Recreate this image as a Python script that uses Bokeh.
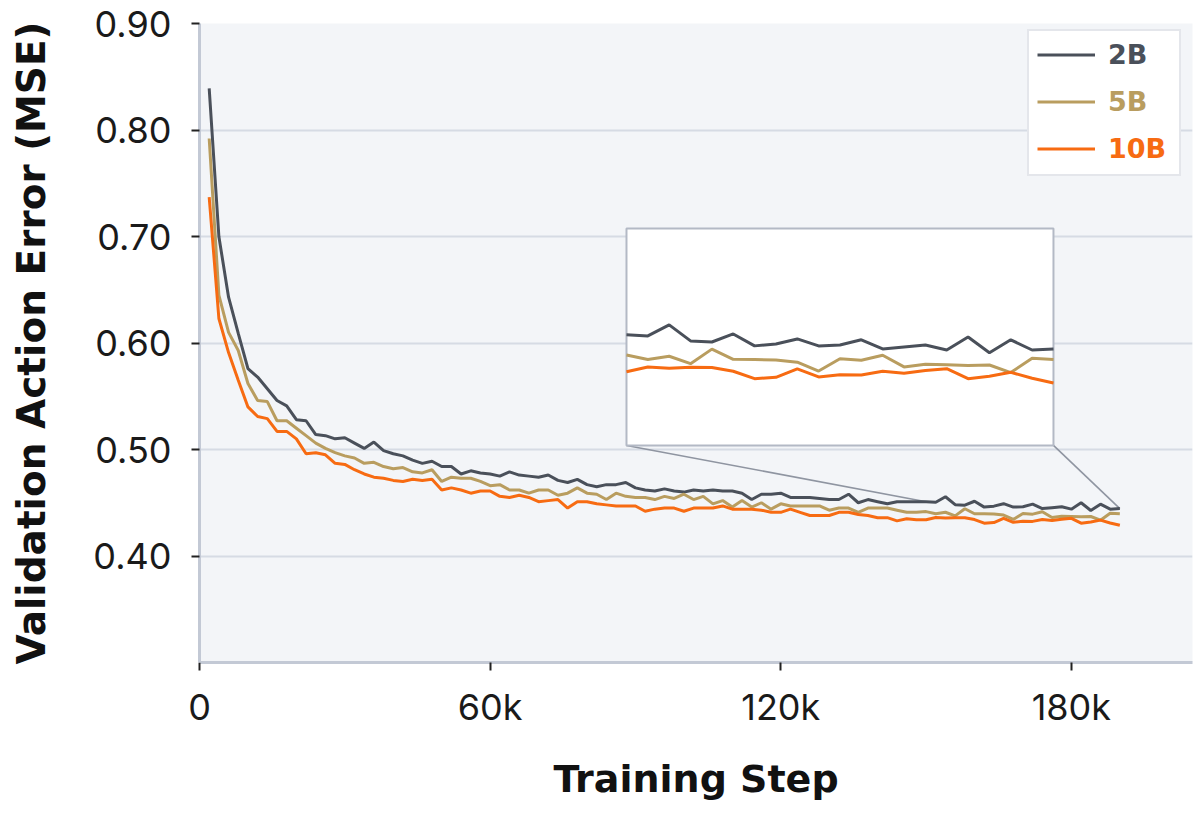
from bokeh.plotting import figure
from bokeh.models import Range1d, FixedTicker, Legend, LegendItem
from bokeh.embed import file_html
from bokeh.resources import INLINE

# ---------------- data ----------------
steps = list(range(2000, 190001, 2000))

series_names = ["2B", "5B", "10B"]

loss_2b = [
    0.839, 0.700, 0.643, 0.609, 0.576, 0.568, 0.557, 0.546, 0.541, 0.528,
    0.527, 0.514, 0.513, 0.510, 0.511, 0.506, 0.501, 0.507, 0.499, 0.496,
    0.494, 0.490, 0.487, 0.489, 0.484, 0.484, 0.477, 0.480, 0.478, 0.477,
    0.475, 0.479, 0.476, 0.475, 0.474, 0.476, 0.471, 0.469, 0.472, 0.467,
    0.465, 0.467, 0.467, 0.469, 0.464, 0.462, 0.461, 0.463, 0.461, 0.460,
    0.462, 0.461, 0.462, 0.461, 0.461, 0.459, 0.453, 0.458, 0.458, 0.459,
    0.455, 0.455, 0.455, 0.454, 0.453, 0.453, 0.458, 0.450, 0.453, 0.451,
    0.449, 0.451, 0.451, 0.451,
    0.4510, 0.4505, 0.4556, 0.4482, 0.4477, 0.4514, 0.4459, 0.4468, 0.4491,
    0.4459, 0.4463, 0.4487, 0.4445, 0.4454, 0.4463, 0.4440, 0.4500, 0.4427,
    0.4487, 0.4440, 0.4445,
]

loss_5b = [
    0.792, 0.645, 0.610, 0.593, 0.562, 0.546, 0.545, 0.527, 0.527, 0.520,
    0.513, 0.506, 0.501, 0.497, 0.494, 0.492, 0.487, 0.488, 0.484, 0.482,
    0.483, 0.479, 0.478, 0.481, 0.470, 0.474, 0.473, 0.473, 0.470, 0.466,
    0.467, 0.462, 0.462, 0.459, 0.462, 0.462, 0.457, 0.459, 0.464, 0.459,
    0.458, 0.453, 0.459, 0.456, 0.455, 0.455, 0.453, 0.456, 0.454, 0.458,
    0.453, 0.456, 0.449, 0.452, 0.446, 0.452, 0.446, 0.450, 0.444, 0.449,
    0.447, 0.447, 0.447, 0.447, 0.443, 0.445, 0.445, 0.441, 0.445, 0.445,
    0.445, 0.443, 0.441, 0.441,
    0.4417, 0.4396, 0.4411, 0.4377, 0.4444, 0.4397, 0.4396, 0.4394, 0.4384,
    0.4343, 0.4400, 0.4393, 0.4416, 0.4362, 0.4374, 0.4372, 0.4368, 0.4371,
    0.4336, 0.4402, 0.4396,
]

loss_10b = [
    0.737, 0.623, 0.591, 0.565, 0.540, 0.531, 0.529, 0.517, 0.517, 0.510,
    0.496, 0.497, 0.495, 0.487, 0.486, 0.481, 0.477, 0.474, 0.473, 0.471,
    0.470, 0.472, 0.471, 0.472, 0.462, 0.464, 0.462, 0.459, 0.461, 0.461,
    0.456, 0.455, 0.457, 0.455, 0.451, 0.452, 0.453, 0.445, 0.451, 0.451,
    0.449, 0.448, 0.447, 0.447, 0.447, 0.442, 0.444, 0.445, 0.445, 0.442,
    0.445, 0.445, 0.445, 0.447, 0.444, 0.444, 0.444, 0.443, 0.441, 0.441,
    0.444, 0.441, 0.438, 0.438, 0.438, 0.441, 0.441, 0.439, 0.438, 0.436,
    0.436, 0.433, 0.435, 0.434,
    0.4340, 0.4362, 0.4356, 0.4360, 0.4359, 0.4342, 0.4308, 0.4314, 0.4353,
    0.4316, 0.4326, 0.4325, 0.4342, 0.4333, 0.4345, 0.4354, 0.4308, 0.4319,
    0.4337, 0.4310, 0.4288,
]

x_ticks = [0, 60000, 120000, 180000]
x_tick_labels = ["0", "60k", "120k", "180k"]
y_ticks = [0.40, 0.50, 0.60, 0.70, 0.80, 0.90]
y_tick_labels = ["0.40", "0.50", "0.60", "0.70", "0.80", "0.90"]

inset_x = (150000, 190000)
inset_y = (0.40, 0.50)

# ---------------- styling / layout ----------------
colors = ["#4a505a", "#b99d5f", "#f76b12"]
FONT = "Inter"
BOLD_FONT = "DejaVu Sans"
X0, X1 = 0, 205000
Y0, Y1 = 0.30, 0.90

# inset placement expressed in main-axis units (layout, not data)
box_x0, box_x1 = 88150, 176300
box_y0, box_y1 = 0.5038, 0.7075

sx = (box_x1 - box_x0) / (inset_x[1] - inset_x[0])
sy = (box_y1 - box_y0) / (inset_y[1] - inset_y[0])
ix_range = Range1d(inset_x[0] - (box_x0 - X0) / sx, inset_x[1] + (X1 - box_x1) / sx)
iy_range = Range1d(inset_y[0] - (box_y0 - Y0) / sy, inset_y[1] + (Y1 - box_y1) / sy)

p = figure(width=1200, height=816, x_range=Range1d(X0, X1), y_range=Range1d(Y0, Y1),
           output_backend="svg", toolbar_location=None,
           min_border_left=199, min_border_right=8, min_border_top=23, min_border_bottom=154)
p.extra_x_ranges = {"ix": ix_range}
p.extra_y_ranges = {"iy": iy_range}

p.background_fill_color = "#f3f5f8"
p.border_fill_color = "white"
p.outline_line_color = None
p.xgrid.visible = False
p.ygrid.grid_line_color = "#d6dbe4"
p.ygrid.grid_line_width = 2

for ax in (p.xaxis[0], p.yaxis[0]):
    ax.axis_line_color = "#c3c9d5"
    ax.axis_line_width = 3
    ax.major_tick_line_color = "#222222"
    ax.major_tick_line_width = 2
    ax.major_tick_out = 8
    ax.major_tick_in = 0
    ax.minor_tick_line_color = None
    ax.major_label_text_font = FONT
    ax.major_label_text_font_size = "36px"
    ax.major_label_text_color = "#1a1a1a"
    ax.axis_label_text_font = BOLD_FONT
    ax.axis_label_text_font_style = "bold"
    ax.axis_label_text_color = "#111111"

p.xaxis.axis_label_text_font_size = "38px"
p.yaxis.axis_label_text_font_size = "39px"
p.xaxis.ticker = FixedTicker(ticks=x_ticks)
p.xaxis.major_label_overrides = dict(zip(x_ticks, x_tick_labels))
p.yaxis.ticker = FixedTicker(ticks=y_ticks)
p.yaxis.major_label_overrides = dict(zip(y_ticks, y_tick_labels))
p.xaxis.axis_label = "Training Step"
p.yaxis.axis_label = "Validation Action Error (MSE)"
p.xaxis.major_label_standoff = 14
p.yaxis.major_label_standoff = 20
p.xaxis.axis_label_standoff = 25
p.yaxis.axis_label_standoff = 36

all_series = [loss_2b, loss_5b, loss_10b]

# connector lines from inset corners to the 2B curve
i_start = steps.index(inset_x[0])
i_end = steps.index(inset_x[1])
p.segment(x0=[box_x0, box_x1], y0=[box_y0, box_y0],
          x1=[steps[i_start], steps[i_end]], y1=[loss_2b[i_start], loss_2b[i_end]],
          line_color="#8f95a1", line_width=1.6)

# main lines
renderers = []
for vals, c in zip(all_series, colors):
    r = p.line(steps, vals, line_color=c, line_width=3)
    renderers.append(r)

# inset
p.quad(left=[inset_x[0]], right=[inset_x[1]], bottom=[inset_y[0]], top=[inset_y[1]],
       x_range_name="ix", y_range_name="iy",
       fill_color="white", line_color="#b3b9c5", line_width=2)
sub_steps = steps[i_start:i_end + 1]
for vals, c in zip(all_series, colors):
    p.line(sub_steps, vals[i_start:i_end + 1], line_color=c, line_width=3,
           x_range_name="ix", y_range_name="iy")

# legend: an outer frame (blank items), then coloured single-item legends on top
ITEM_H = 47
PAD = 1
common = dict(padding=PAD, spacing=0, glyph_width=58, glyph_height=ITEM_H,
              label_height=ITEM_H, label_standoff=13,
              label_text_font=BOLD_FONT, label_text_font_style="bold",
              label_text_font_size="27px", margin=0)
ghost = p.line([], [], line_alpha=0)
frame_legend = Legend(items=[LegendItem(label=" ", renderers=[ghost]) for _ in series_names],
                      location=(828, 486), border_line_color="#c9ced8", border_line_width=2,
                      background_fill_color="white", background_fill_alpha=1,
                      label_text_alpha=0, label_width=77, **common)
p.add_layout(frame_legend, "center")
for i, (n, r, c) in enumerate(zip(series_names, renderers, colors)):
    lg = Legend(items=[LegendItem(label=n, renderers=[r])],
                location=(837, 583 - ITEM_H * i), border_line_alpha=0,
                background_fill_alpha=0, label_text_color=c, label_width=60, **common)
    p.add_layout(lg, "center")

open("out.html", "w").write(file_html(p, INLINE))
